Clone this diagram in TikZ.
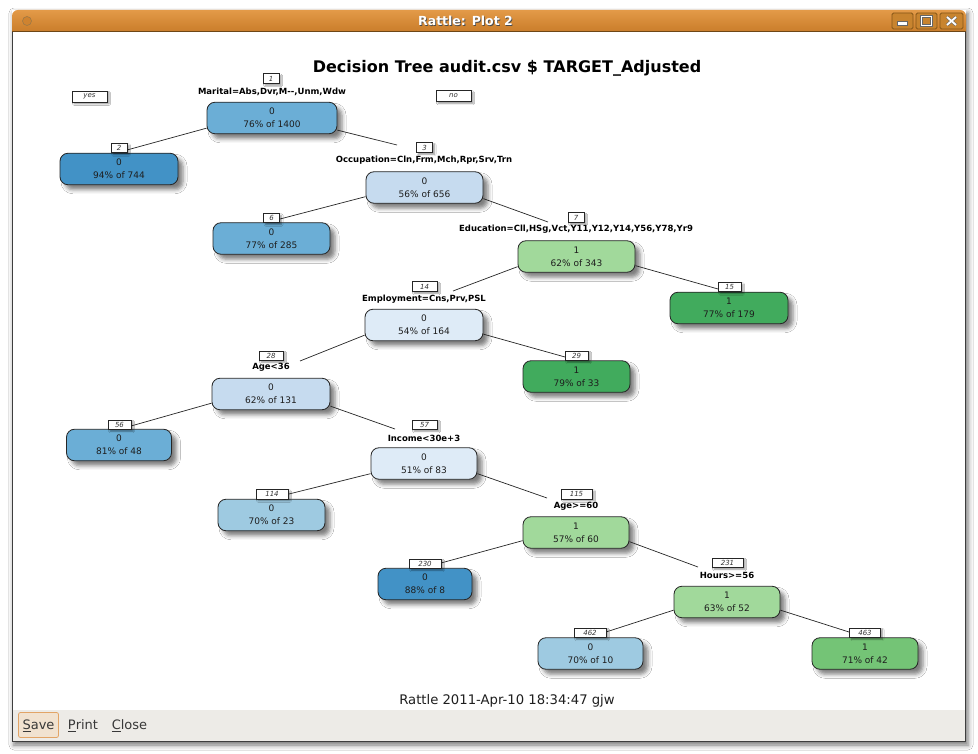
\documentclass[tikz,border=0pt]{standalone}
\usepackage{fontspec}
\setmainfont{DejaVu Sans}
\usetikzlibrary{shadows.blur}
\definecolor{cA}{HTML}{4292C6}
\definecolor{cB}{HTML}{6BAED6}
\definecolor{cC}{HTML}{9ECAE1}
\definecolor{cD}{HTML}{C6DBEF}
\definecolor{cE}{HTML}{DEEBF7}
\definecolor{gA}{HTML}{A1D99B}
\definecolor{gB}{HTML}{74C476}
\definecolor{gC}{HTML}{41AB5D}
\definecolor{tbtop}{HTML}{E39A48}
\definecolor{tbmid}{HTML}{CF8330}
\definecolor{tbbot}{HTML}{BA7326}
\definecolor{tbline}{HTML}{6E4616}
\definecolor{tbbtn}{HTML}{C8842F}
\definecolor{tbbtnb}{HTML}{855618}
\definecolor{barcol}{HTML}{EDEBE7}
\definecolor{savefill}{HTML}{F1E2D0}
\definecolor{saveline}{HTML}{E2A466}
\definecolor{wborder}{HTML}{3E3E3E}
\definecolor{txt}{HTML}{1E1E1E}
\tikzset{
  tnode/.style={draw=black!85, line width=0.8pt, rounded corners=8pt, minimum height=31.5pt,
    inner sep=0pt, align=center, font=\fontsize{9}{13}\selectfont, text=txt,
    blur shadow={shadow xshift=5pt, shadow yshift=-5pt, shadow blur radius=4pt, shadow opacity=50}},
  numlab/.style={draw=black!85, line width=0.5pt, fill=white, minimum width=#1, minimum height=9.5pt,
    inner sep=0pt, font=\fontsize{7}{8}\selectfont\itshape, text=black!80,
    blur shadow={shadow xshift=2pt, shadow yshift=-2pt, shadow blur radius=1.5pt, shadow opacity=40}},
  splitlab/.style={font=\fontsize{8.5}{9}\selectfont\bfseries, inner sep=0pt, text=black},
  branch/.style={line width=0.7pt, draw=black!85},
  chrome/.style={font=\fontsize{13}{15}\selectfont, text=black!78, inner sep=0pt},
}
\begin{document}
\begin{tikzpicture}[x=1pt,y=-1pt]
\useasboundingbox (0,0) rectangle (978,754);
\fill[white] (0,0) rectangle (978,754);
% window with shadow
\fill[white, blur shadow={shadow xshift=2pt, shadow yshift=-3pt, shadow blur radius=5pt, shadow opacity=55}] (12,10) rectangle (966,742);
% title bar
\shade[top color=tbtop, bottom color=tbbot, middle color=tbmid, rounded corners=6pt] (12,10) rectangle (966,44);
\fill[white] (12.5,32.5) rectangle (965.5,742);
\draw[tbline, line width=1pt] (12,32) -- (966,32);
\draw[wborder, line width=1pt] (12.5,32) -- (12.5,741.5) -- (965.5,741.5) -- (965.5,32);
\node[font=\fontsize{12.5}{14}\selectfont\bfseries, text=black!70, inner sep=0pt] (wtsh) at (466.3,21.8) {Rattle: Plot 2};
\node[font=\fontsize{12.5}{14}\selectfont\bfseries, text=white, inner sep=0pt] (wt) at (465.5,21) {Rattle: Plot 2};
\draw[fill=tbmid, draw=tbbtnb!80, line width=0.6pt] (27,21) circle (4.5);
% window buttons
\foreach \xa/\xb in {892/913, 916/937, 940/963}{
  \draw[fill=tbbtn, draw=tbbtnb, line width=0.8pt, rounded corners=1.5pt] (\xa,13) rectangle (\xb,29);
}
\draw[fill=white, draw=black!60, line width=0.5pt] (897.5,21.5) rectangle (907.5,25);
\draw[draw=black!60, line width=2.2pt] (921.5,16.5) rectangle (931.5,25.5);
\draw[draw=white, line width=1.3pt] (921.5,16.5) rectangle (931.5,25.5);
\draw[draw=black!60, line width=3pt] (947,17) -- (956,25) (956,17) -- (947,25);
\draw[draw=white, line width=1.9pt] (947,17) -- (956,25) (956,17) -- (947,25);
% bottom bar
\fill[barcol] (13,710) rectangle (965,741);
\draw[fill=savefill, draw=saveline, line width=0.8pt, rounded corners=2pt] (18.5,712.5) rectangle (58.5,737.5);
\node[chrome] (bsave) at (38.5,725.5) {\underline{S}ave};
\node[chrome] (bprint) at (83,725.5) {\underline{P}rint};
\node[chrome] (bclose) at (129.5,725.5) {\underline{C}lose};
% titles
\node[font=\fontsize{16}{18}\selectfont\bfseries, inner sep=0pt] (title) at (507,68) {Decision Tree audit.csv \$ TARGET\_Adjusted};
\node[font=\fontsize{13.2}{15}\selectfont, text=txt, inner sep=0pt] (foot) at (507,701) {Rattle 2011-Apr-10 18:34:47 gjw};
% yes / no
\node[numlab=35pt, minimum height=11pt] (yes) at (89.5,96.5) {yes};
\node[numlab=35pt, minimum height=11pt] (no) at (453.5,96) {no};
% tree nodes
\node[tnode, fill=cB, minimum width=130pt] (n1) at (272,118) {0\\76\% of 1400};
\node[tnode, fill=cA, minimum width=118pt] (n2) at (119,169) {0\\94\% of 744};
\node[tnode, fill=cD, minimum width=117pt] (n3) at (424.5,187.5) {0\\56\% of 656};
\node[tnode, fill=cB, minimum width=117pt] (n6) at (271.5,238.5) {0\\77\% of 285};
\node[tnode, fill=gA, minimum width=117pt] (n7) at (576.5,256.5) {1\\62\% of 343};
\node[tnode, fill=cE, minimum width=118pt] (n14) at (424,325) {0\\54\% of 164};
\node[tnode, fill=gC, minimum width=118pt] (n15) at (729,308) {1\\77\% of 179};
\node[tnode, fill=cD, minimum width=118pt] (n28) at (271,394) {0\\62\% of 131};
\node[tnode, fill=gC, minimum width=107pt] (n29) at (576.5,376.5) {1\\79\% of 33};
\node[tnode, fill=cB, minimum width=105pt] (n56) at (119,445) {0\\81\% of 48};
\node[tnode, fill=cE, minimum width=106pt] (n57) at (424,463.5) {0\\51\% of 83};
\node[tnode, fill=cC, minimum width=107pt] (n114) at (271.5,515) {0\\70\% of 23};
\node[tnode, fill=gA, minimum width=106pt] (n115) at (576,532.5) {1\\57\% of 60};
\node[tnode, fill=cA, minimum width=94pt] (n230) at (425,584) {0\\88\% of 8};
\node[tnode, fill=gA, minimum width=106pt] (n231) at (727,602) {1\\63\% of 52};
\node[tnode, fill=cC, minimum width=105pt] (n462) at (590.5,653.5) {0\\70\% of 10};
\node[tnode, fill=gB, minimum width=106pt] (n463) at (865,653.5) {1\\71\% of 42};
% split labels
\node[splitlab] (s1) at (272,91.5) {Marital=Abs,Dvr,M-{}-,Unm,Wdw};
\node[splitlab] (s3) at (424,160.5) {Occupation=Cln,Frm,Mch,Rpr,Srv,Trn};
\node[splitlab] (s7) at (576,229.5) {Education=Cll,HSg,Vct,Y11,Y12,Y14,Y56,Y78,Yr9};
\node[splitlab] (s14) at (424,299) {Employment=Cns,Prv,PSL};
\node[splitlab] (s28) at (271,367.5) {Age<36};
\node[splitlab] (s57) at (424,438) {Income<30e+3};
\node[splitlab] (s115) at (576,506) {Age>=60};
\node[splitlab] (s231) at (727,575.5) {Hours>=56};
% branch end points
\coordinate (e2) at (127,150);
\coordinate (e3) at (397,145);
\coordinate (e6) at (280,219);
\coordinate (e7) at (548,222);
\coordinate (e14) at (453,291);
\coordinate (e15) at (718,289);
\coordinate (e28) at (300,361);
\coordinate (e29) at (565,357);
\coordinate (e56) at (131,426);
\coordinate (e57) at (395,429);
\coordinate (e114) at (289,494);
\coordinate (e115) at (547,498);
\coordinate (e230) at (441,563);
\coordinate (e231) at (698,567);
\coordinate (e462) at (606,632);
\coordinate (e463) at (849,632);
% branches
\draw[branch] (n1.south west) ++(0,-6) -- (e2);
\draw[branch] (n1.south east) ++(0,-4) -- (e3);
\draw[branch] (n3.south west) ++(0,-7) -- (e6);
\draw[branch] (n3.south east) ++(0,-5) -- (e7);
\draw[branch] (n7.south west) ++(0,-6) -- (e14);
\draw[branch] (n7.south east) ++(0,-7) -- (e15);
\draw[branch] (n14.south west) ++(0,-6) -- (e28);
\draw[branch] (n14.south east) ++(0,-7) -- (e29);
\draw[branch] (n28.south west) ++(0,-7) -- (e56);
\draw[branch] (n28.south east) ++(0,-4) -- (e57);
\draw[branch] (n57.south west) ++(0,-6) -- (e114);
\draw[branch] (n57.south east) ++(0,-6) -- (e115);
\draw[branch] (n115.south west) ++(0,-8) -- (e230);
\draw[branch] (n115.south east) ++(0,-7) -- (e231);
\draw[branch] (n231.south west) ++(0,-8) -- (e462);
\draw[branch] (n231.south east) ++(0,-8) -- (e463);
% node number labels
\node[numlab=16pt] (l1) at (271,78.5) {1};
\node[numlab=16pt] (l2) at (119,148) {2};
\node[numlab=16pt] (l3) at (424.5,147.5) {3};
\node[numlab=16pt] (l6) at (271.5,218) {6};
\node[numlab=16pt] (l7) at (576,217.5) {7};
\node[numlab=25pt] (l14) at (424.5,286.5) {14};
\node[numlab=23pt] (l15) at (729.5,287) {15};
\node[numlab=24pt] (l28) at (271,355.5) {28};
\node[numlab=23pt] (l29) at (576.5,355.5) {29};
\node[numlab=23pt] (l56) at (119.5,424.5) {56};
\node[numlab=25pt] (l57) at (424.5,424.5) {57};
\node[numlab=32pt] (l114) at (272,494) {114};
\node[numlab=31pt] (l115) at (576.5,494) {115};
\node[numlab=32pt] (l230) at (425,563.5) {230};
\node[numlab=31pt] (l231) at (727.5,562.5) {231};
\node[numlab=32pt] (l462) at (590,632.5) {462};
\node[numlab=31pt] (l463) at (865,632.5) {463};
\end{tikzpicture}
\end{document}
